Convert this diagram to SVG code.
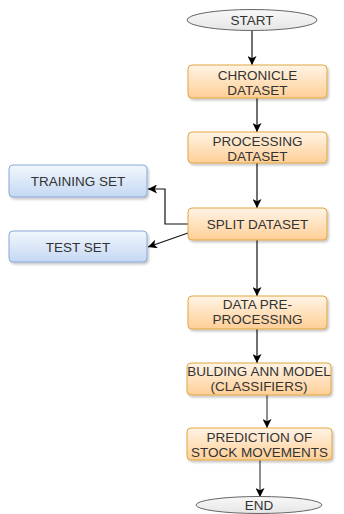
<svg xmlns="http://www.w3.org/2000/svg" width="344" height="514" viewBox="0 0 344 514">
<defs>
<linearGradient id="gO" x1="0" y1="0" x2="0" y2="1"><stop offset="0" stop-color="#fff4e6"/><stop offset="1" stop-color="#ffcf96"/></linearGradient>
<linearGradient id="gB" x1="0" y1="0" x2="0" y2="1"><stop offset="0" stop-color="#f2f7fd"/><stop offset="1" stop-color="#c4d8f3"/></linearGradient>
<linearGradient id="gE" x1="0" y1="0" x2="0" y2="1"><stop offset="0" stop-color="#f8f8f8"/><stop offset="1" stop-color="#e6e6e6"/></linearGradient>
<filter id="sh" x="-10%" y="-20%" width="130%" height="150%"><feDropShadow dx="1.5" dy="2" stdDeviation="1" flood-color="#000" flood-opacity="0.22"/></filter>
<marker id="ah" viewBox="0 0 10 10" refX="10" refY="5" markerWidth="9" markerHeight="9" markerUnits="userSpaceOnUse" orient="auto"><path d="M0,0 L10,5 L0,10 L2.5,5 Z" fill="#000"/></marker>
</defs>
<style>
.o{fill:url(#gO);stroke:#e0a640;stroke-width:1;filter:url(#sh)}
.b{fill:url(#gB);stroke:#8aa8d6;stroke-width:1;filter:url(#sh)}
.e{fill:url(#gE);stroke:#666;stroke-width:1}
text{font-family:"Liberation Sans",Arial,sans-serif;font-size:13.5px;fill:#333;text-anchor:middle}
.c{fill:none;stroke:#111;stroke-width:1.2;marker-end:url(#ah)}
</style>
<g id="connectors">
<path class="c" d="M252,31 V65"/>
<path class="c" d="M257,98 V132"/>
<path class="c" d="M257,163 V208"/>
<path class="c" d="M188,224 H165 V189 H148"/>
<path class="c" d="M188,233 L148,247"/>
<path class="c" d="M257,240 V296"/>
<path class="c" d="M257,329 V363"/>
<path class="c" d="M267,395 V428" style="stroke:#444"/>
<path class="c" d="M260,460 V497" style="stroke:#444"/>
</g>
<g id="start"><ellipse class="e" cx="252" cy="20" rx="65" ry="10.5"/><text x="252" y="25">START</text></g>
<g id="chronicle"><rect class="o" x="188" y="65" width="139" height="33" rx="4"/><text x="257.5" y="80">CHRONICLE</text><text x="257.5" y="95">DATASET</text></g>
<g id="processing"><rect class="o" x="188" y="132" width="139" height="31" rx="4"/><text x="257.5" y="146">PROCESSING</text><text x="257.5" y="160.5">DATASET</text></g>
<g id="split"><rect class="o" x="188" y="208" width="139" height="32" rx="4"/><text x="257.5" y="229">SPLIT DATASET</text></g>
<g id="training"><rect class="b" x="9" y="165" width="138" height="32" rx="4"/><text x="78" y="186">TRAINING SET</text></g>
<g id="test"><rect class="b" x="9" y="231" width="138" height="31" rx="4"/><text x="78" y="251.5">TEST SET</text></g>
<g id="datapre"><rect class="o" x="188" y="296" width="139" height="33" rx="4"/><text x="257.5" y="309">DATA PRE-</text><text x="257.5" y="324">PROCESSING</text></g>
<g id="ann"><rect class="o" x="187" y="363" width="144" height="32" rx="4"/><text x="259" y="376">BULDING ANN MODEL</text><text x="259" y="390.5">(CLASSIFIERS)</text></g>
<g id="prediction"><rect class="o" x="187" y="428" width="145" height="32" rx="4"/><text x="259.5" y="442">PREDICTION OF</text><text x="259.5" y="457">STOCK MOVEMENTS</text></g>
<g id="end"><ellipse class="e" cx="259" cy="505" rx="63" ry="8.5"/><text x="259" y="510">END</text></g>
</svg>
